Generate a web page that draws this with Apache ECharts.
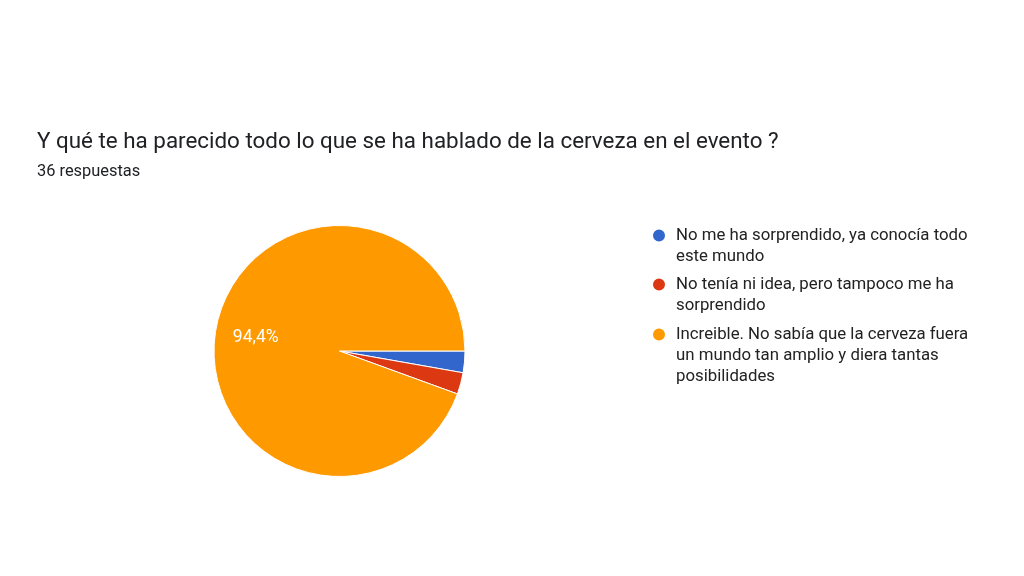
<!DOCTYPE html>
<html>
<head>
<meta charset="utf-8">
<script src="https://cdn.jsdelivr.net/npm/echarts@6/dist/echarts.min.js"></script>
<style>
  html, body { margin: 0; padding: 0; background: #fff; }
  #chart { width: 1024px; height: 576px; }
</style>
</head>
<body>
<div id="chart"></div>
<script>
var titleText = 'Y qué te ha parecido todo lo que se ha hablado de la cerveza en el evento ?';
var subText = '36 respuestas';
// respuestas por opción
var categories = [
    'No me ha sorprendido, ya conocía todo\neste mundo',
    'No tenía ni idea, pero tampoco me ha\nsorprendido',
    'Increible. No sabía que la cerveza fuera\nun mundo tan amplio y diera tantas\nposibilidades'
];
var counts = [1, 1, 34];
var colors = ['#3366cc', '#dc3912', '#ff9900'];

var total = 0;
for (var i = 0; i < counts.length; i++) {
    total += counts[i];
}

var pieData = [];
for (var i = 0; i < categories.length; i++) {
    pieData.push({
        name: categories[i],
        value: counts[i],
        itemStyle: {color: colors[i]}
    });
}

// una leyenda por opción: el punto queda alineado con la primera línea
var lineH = 21;
var firstLineY = [234, 283, 333];
var legends = [];
for (var i = 0; i < categories.length; i++) {
    var n = categories[i].split('\n').length;
    legends.push({
        orient: 'vertical',
        left: 651,
        top: firstLineY[i] - 7,
        padding: 0,
        icon: 'circle',
        itemWidth: 14,
        itemHeight: 14,
        selectedMode: false,
        data: [categories[i]],
        formatter: function (name) {
            return '{t|' + name + '}';
        },
        textStyle: {
            padding: [(n - 1) * lineH, 0, 0, 5],
            rich: {
                t: {
                    color: '#222222',
                    fontSize: 16.8,
                    fontFamily: 'Roboto',
                    lineHeight: lineH
                }
            }
        }
    });
}

var chart = echarts.init(document.getElementById('chart'));
chart.setOption({
    backgroundColor: '#ffffff',
    animation: false,
    title: {
        text: titleText,
        subtext: subText,
        left: 32,
        top: 126,
        itemGap: 11,
        textStyle: {
            color: '#202124',
            fontSize: 22.4,
            fontWeight: 'normal',
            fontFamily: 'Roboto'
        },
        subtextStyle: {
            color: '#202124',
            fontSize: 16.4,
            fontFamily: 'Roboto'
        }
    },
    legend: legends,
    series: [
        {
            name: 'respuestas',
            type: 'pie',
            center: [339.5, 351],
            radius: 125.5,
            startAngle: 0,
            clockwise: true,
            avoidLabelOverlap: false,
            itemStyle: {
                borderColor: '#ffffff',
                borderWidth: 1
            },
            label: {
                show: true,
                position: 'inside',
                color: '#ffffff',
                fontSize: 17.5,
                fontFamily: 'Roboto',
                formatter: function (p) {
                    var pct = p.value / total * 100;
                    if (pct < 5) {
                        return '';
                    }
                    return pct.toFixed(1).replace('.', ',') + '%';
                }
            },
            labelLayout: {dx: -19, dy: -2},
            labelLine: {show: false},
            emphasis: {disabled: true},
            data: pieData
        }
    ]
});
</script>
</body>
</html>
